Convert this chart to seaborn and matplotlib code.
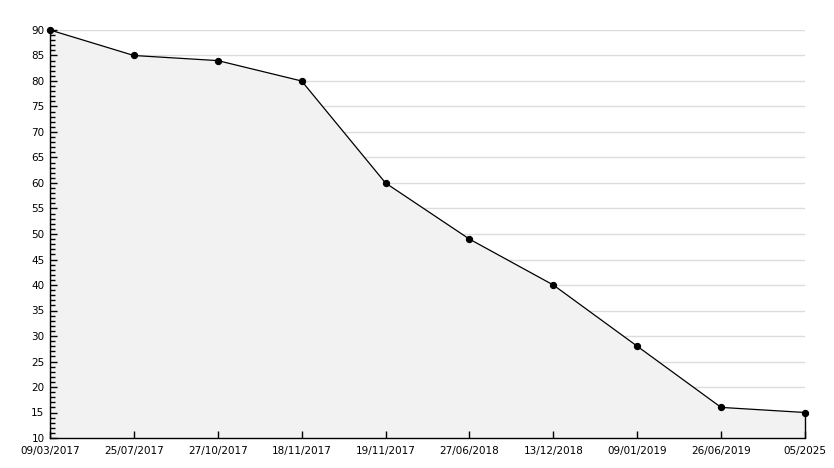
import matplotlib
matplotlib.use("Agg")
import matplotlib.pyplot as plt
import seaborn as sns
import pandas as pd
import numpy as np
from matplotlib.ticker import MultipleLocator

dates = ["09/03/2017", "25/07/2017", "27/10/2017", "18/11/2017", "19/11/2017",
         "27/06/2018", "13/12/2018", "09/01/2019", "26/06/2019", "05/2025"]
values = [90, 85, 84, 80, 60, 49, 40, 28, 16, 15]

sns.set_theme(style="white")
plt.rcParams['font.family'] = ['DejaVu Sans']

df = pd.DataFrame({"pos": np.arange(len(dates)), "value": values})

fig = plt.figure(figsize=(8.34, 4.68), dpi=100)
ax = fig.add_axes([50/834, 30/468, 755/834, 408/468])

ymin, ymax = 10, 90
ax.set_xlim(0, len(dates) - 1)
ax.set_ylim(ymin, ymax)
ax.yaxis.set_major_locator(MultipleLocator(5))
ax.yaxis.set_minor_locator(MultipleLocator(1))

grid_levels = [t for t in ax.get_yticks() if ymin < t <= ymax]
ax.hlines(grid_levels, 0, len(dates) - 1, color="#dcdcdc", linewidth=1, zorder=0.5)

ax.fill_between(df["pos"], df["value"], ymin, color="#f2f2f2", linewidth=0, zorder=1)
ax.vlines(df["pos"].iloc[-1], ymin, df["value"].iloc[-1], color="black", linewidth=1,
          zorder=3, clip_on=False)
sns.lineplot(data=df, x="pos", y="value", ax=ax, color="black", linewidth=0.9,
             marker="o", markersize=4.5, markeredgecolor="black", markerfacecolor="black",
             sort=False, zorder=4, clip_on=False)

ax.set_xticks(df["pos"])
ax.set_xticklabels(dates)
ax.grid(False)
ax.set_axisbelow(False)

for s in ["top", "right"]:
    ax.spines[s].set_visible(False)
for s in ["left", "bottom"]:
    ax.spines[s].set_color("black")
    ax.spines[s].set_linewidth(1)
    ax.spines[s].set_zorder(5)

ax.tick_params(axis="y", which="major", direction="in", length=5, width=1, color="black",
               labelsize=7.5, pad=4, left=True)
ax.tick_params(axis="y", which="minor", direction="in", length=3.5, width=1, color="black", left=True)
ax.tick_params(axis="x", which="major", direction="in", length=5, width=1, color="black",
               labelsize=7.5, pad=6, bottom=True)
ax.set_xlabel("")
ax.set_ylabel("")
for lbl in ax.get_xticklabels() + ax.get_yticklabels():
    lbl.set_color("black")

fig.savefig("out.png", dpi=100)
